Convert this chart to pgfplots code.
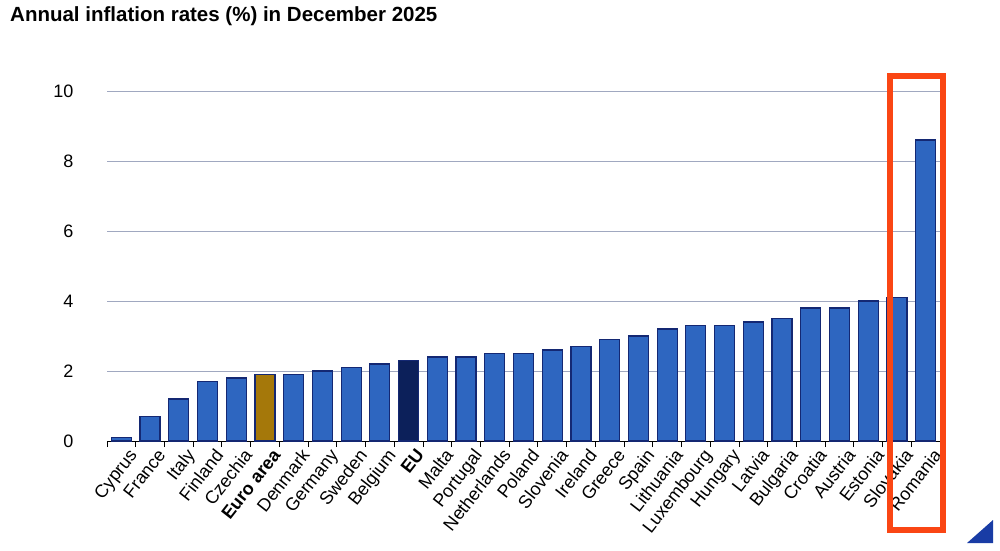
\documentclass[border=0pt]{standalone}
\usepackage{fontspec}
\setmainfont{Liberation Sans}
\usepackage{pgfplots}
\pgfplotsset{compat=1.18}
\definecolor{barblue}{RGB}{46,102,192}
\definecolor{barborder}{RGB}{20,40,115}
\definecolor{goldc}{RGB}{165,120,10}
\definecolor{eunavy}{RGB}{12,32,90}
\definecolor{gridc}{RGB}{160,168,192}
\definecolor{redc}{RGB}{250,70,20}
\definecolor{tric}{RGB}{25,60,165}
\begin{document}
\begin{tikzpicture}[x=1pt,y=1pt]
\useasboundingbox (0,0) rectangle (1000,550);
\node[anchor=base west, font=\bfseries\fontsize{20.5}{24}\selectfont, inner sep=0pt] at (10,528) {Annual inflation rates (\%) in December 2025};
\begin{axis}[
  at={(107pt,109pt)}, anchor=south west,
  scale only axis, width=833pt, height=350pt,
  xmin=-0.5, xmax=28.5, ymin=0, ymax=10,
  ytick={0,2,...,10},
  xtick={0,...,28},
  xticklabels={Cyprus,France,Italy,Finland,Czechia,\textbf{Euro area},Denmark,Germany,Sweden,Belgium,\textbf{EU},Malta,Portugal,Netherlands,Poland,Slovenia,Ireland,Greece,Spain,Lithuania,Luxembourg,Hungary,Latvia,Bulgaria,Croatia,Austria,Estonia,Slovakia,Romania},
  minor xtick={-0.5,0.5,...,28.5},
  major tick length=0pt,
  minor tick length=6pt,
  tick align=outside,
  major x tick style={draw=none},
  minor x tick style={black, line width=0.8pt},
  axis x line*=bottom, axis y line*=left,
  x axis line style={black, line width=1pt, -},
  y axis line style={draw=none},
  ytick style={draw=none},
  ymajorgrids, grid style={gridc, line width=1pt},
  /pgf/number format/assume math mode=true,
  yticklabel style={font=\fontsize{18}{21}\selectfont, anchor=east, xshift=-30pt},
  xticklabel style={font=\fontsize{18}{21}\selectfont, rotate=52, anchor=north east, inner sep=0pt, yshift=-9pt, xshift=-1pt},
  ybar, bar width=20pt, bar shift=0pt,
  clip=false,
]
\addplot[fill=barblue, draw=barborder, line width=1.2pt] coordinates {
(0,0.1) (1,0.7) (2,1.2) (3,1.7) (4,1.8) (6,1.9) (7,2.0) (8,2.1) (9,2.2)
(11,2.4) (12,2.4) (13,2.5) (14,2.5) (15,2.6) (16,2.7) (17,2.9) (18,3.0)
(19,3.2) (20,3.3) (21,3.3) (22,3.4) (23,3.5) (24,3.8) (25,3.8) (26,4.0)
(27,4.1) (28,8.6)};
\addplot[fill=goldc, draw=barborder, line width=1.2pt] coordinates {(5,1.9)};
\addplot[fill=eunavy, draw=barborder, line width=1.2pt] coordinates {(10,2.3)};
\coordinate (rA) at (axis cs:26.76,-2.54);
\coordinate (rB) at (axis cs:28.61,10.43);
\end{axis}
\draw[redc, line width=6pt] (rA) rectangle (rB);
\fill[tric] (967,7) -- (993,7) -- (993,30) -- cycle;
\end{tikzpicture}
\end{document}
